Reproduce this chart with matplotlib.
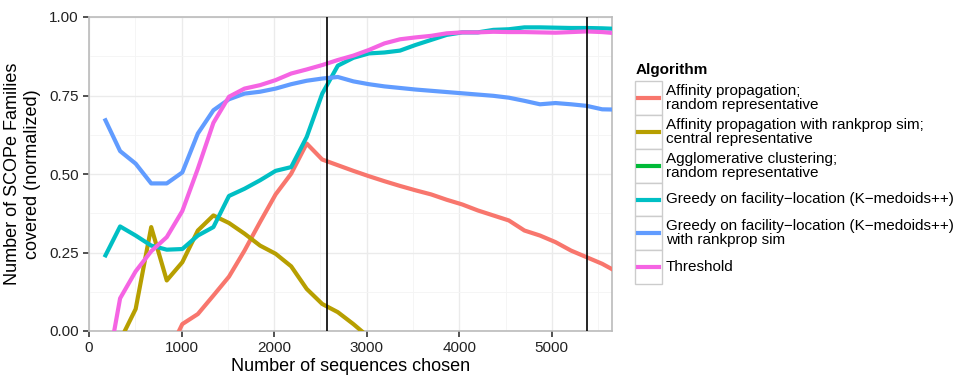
import numpy as np
import matplotlib
matplotlib.use("Agg")
import matplotlib.pyplot as plt
from matplotlib.patches import Rectangle

plt.rcParams['font.family'] = ['Liberation Sans', 'DejaVu Sans']

# ---- data ----
x_steps = [168 * k for k in range(1, 35)]  # 168 .. 5712

affinity_random = [None, None, None, None, -0.08, 0.022, 0.054, 0.113, 0.173, 0.256,
                   0.347, 0.435, 0.501, 0.597, 0.546, 0.528, 0.510, 0.493, 0.477, 0.462,
                   0.448, 0.435, 0.418, 0.403, 0.384, 0.368, 0.352, 0.320, 0.304, 0.283,
                   0.256, 0.235, 0.214, 0.187]
affinity_rankprop = [None, -0.03, 0.070, 0.331, 0.161, 0.219, 0.320, 0.368, 0.344, 0.310,
                     0.272, 0.246, 0.206, 0.134, 0.086, 0.060, 0.022, -0.02] + [None] * 16
agglomerative = [None] * 34
greedy = [0.235, 0.333, 0.304, 0.272, 0.259, 0.261, 0.304, 0.331, 0.430, 0.453,
          0.480, 0.510, 0.522, 0.618, 0.756, 0.845, 0.870, 0.884, 0.887, 0.893,
          0.911, 0.927, 0.943, 0.951, 0.951, 0.959, 0.961, 0.967, 0.967, 0.966,
          0.965, 0.965, 0.964, 0.962]
greedy_rankprop = [0.677, 0.573, 0.533, 0.470, 0.470, 0.505, 0.629, 0.703, 0.738, 0.756,
                   0.762, 0.772, 0.786, 0.797, 0.804, 0.809, 0.795, 0.786, 0.779, 0.774,
                   0.769, 0.765, 0.761, 0.757, 0.753, 0.749, 0.743, 0.733, 0.722, 0.726,
                   0.722, 0.717, 0.706, 0.705]
threshold = [-0.17, 0.104, 0.190, 0.254, 0.299, 0.382, 0.517, 0.663, 0.746, 0.772,
             0.783, 0.799, 0.820, 0.833, 0.847, 0.863, 0.877, 0.895, 0.916, 0.929,
             0.935, 0.940, 0.948, 0.951, 0.951, 0.953, 0.952, 0.952, 0.951, 0.950,
             0.952, 0.954, 0.952, 0.948]

vlines = [2571, 5384]

labels = ["Affinity propagation;\nrandom representative",
          "Affinity propagation with rankprop sim;\ncentral representative",
          "Agglomerative clustering;\nrandom representative",
          "Greedy on facility\u2212location (K\u2212medoids++)",
          "Greedy on facility\u2212location (K\u2212medoids++)\nwith rankprop sim",
          "Threshold"]
colors = ["#F8766D", "#B79F00", "#00BA38", "#00BFC4", "#619CFF", "#F564E3"]
series = [affinity_random, affinity_rankprop, agglomerative, greedy, greedy_rankprop, threshold]

x_ticks = [0, 1000, 2000, 3000, 4000, 5000]
y_ticks = [0.0, 0.25, 0.5, 0.75, 1.0]
y_ticklabels = ["0.00", "0.25", "0.50", "0.75", "1.00"]

# ---- figure ----
fig = plt.figure(figsize=(9.64, 3.76), dpi=100)
ax = fig.add_axes([89 / 964, 1 - 331 / 376, (612 - 89) / 964, (331 - 17) / 376])

for s, c in zip(series, colors):
    xs = [x for x, v in zip(x_steps, s) if v is not None]
    ys = [v for v in s if v is not None]
    ax.plot(xs, ys, color=c, lw=3, solid_capstyle='butt', solid_joinstyle='round', zorder=3)

for v in vlines:
    ax.axvline(v, color='black', lw=1.2, zorder=4)

ax.set_xlim(0, 5650)
ax.set_ylim(0, 1)
ax.set_xticks(x_ticks)
ax.set_yticks(y_ticks)
ax.set_yticklabels(y_ticklabels)
ax.set_xticks([500, 1500, 2500, 3500, 4500, 5500], minor=True)
ax.set_yticks([0.125, 0.375, 0.625, 0.875], minor=True)
ax.grid(True, which='major', color='#EBEBEB', lw=1.0, zorder=0)
ax.grid(True, which='minor', color='#F4F4F4', lw=0.6, zorder=0)
ax.tick_params(which='minor', length=0)
ax.tick_params(which='major', length=4, width=1.2, color='#333333', labelsize=11, labelcolor='#222222')
for sp in ax.spines.values():
    sp.set_color('#BBBBBB')
    sp.set_linewidth(1.2)
ax.set_axisbelow(True)

ax.set_xlabel("Number of sequences chosen", fontsize=13, labelpad=2)
ax.set_ylabel("Number of SCOPe Families\ncovered (normalized)", fontsize=13, labelpad=6)

# ---- legend (ggplot style) ----
fig.text(636 / 964, 1 - 70 / 376, "Algorithm", fontsize=11, fontweight='bold', va='center', ha='left')
row_edges = [81, 115, 149, 183, 216, 250, 284]
kx0, kx1 = 635, 662
for i, (lab, c) in enumerate(zip(labels, colors)):
    top, bot = row_edges[i], row_edges[i + 1]
    rect = Rectangle((kx0 / 964, 1 - bot / 376), (kx1 - kx0) / 964, (bot - top) / 376,
                     transform=fig.transFigure, facecolor='white', edgecolor='#CCCCCC', lw=1.0)
    fig.patches.append(rect)
    ymid = 1 - (top + bot) / 2 / 376
    fig.add_artist(plt.Line2D([(kx0 + 3) / 964, (kx1 - 3) / 964], [ymid, ymid],
                              transform=fig.transFigure, color=c, lw=3))
    fig.text(666 / 964, ymid, lab, fontsize=11, va='center', ha='left', linespacing=1.0)

fig.savefig("out.png", dpi=100)
